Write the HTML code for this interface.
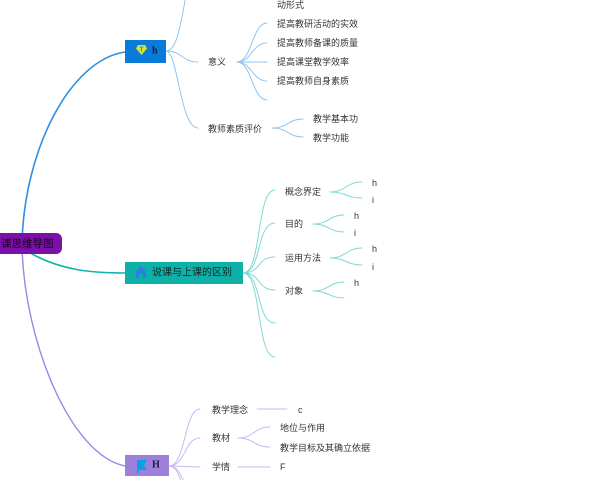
<!DOCTYPE html>
<html><head><meta charset="utf-8">
<style>
html,body{margin:0;padding:0;background:#fff;width:600px;height:480px;overflow:hidden}
svg{display:block}
text{font-family:"Liberation Sans","Noto Sans CJK SC",sans-serif;dominant-baseline:central}
</style></head><body>
<svg width="600" height="480" viewBox="0 0 600 480" xmlns="http://www.w3.org/2000/svg">
<g fill="none" stroke-linecap="round">
  <!-- root links -->
  <path d="M22,244 C24,150 70,60 125,52" stroke="#2d8fe3" stroke-width="1.6"/>
  <path d="M32,254 C62,270 90,273 125,273" stroke="#10b3ad" stroke-width="1.6"/>
  <path d="M22,246 C24,340 70,455 125,466" stroke="#9b86e6" stroke-width="1.4"/>

  <!-- blue node branches -->
  <g stroke="#8ec4f2" stroke-width="1">
    <path d="M166,51 C176,51 180,30 186,-5"/>
    <path d="M166,51 C182,51 182,62 198,62"/>
    <path d="M166,51 C178,51 180,128 198,128"/>
    <path d="M237,62 C252,62 252,23 267,23"/>
    <path d="M237,62 C252,62 252,43 267,43"/>
    <path d="M237,62 L267,62"/>
    <path d="M237,62 C252,62 252,81 267,81"/>
    <path d="M237,62 C252,62 252,100 267,100"/>
    <path d="M272,128 C288,128 288,119 303,119"/>
    <path d="M272,128 C288,128 288,137 303,137"/>
  </g>

  <!-- teal node branches -->
  <g stroke="#7fd8d4" stroke-width="1">
    <path d="M243,273 C262,273 256,190 275,190"/>
    <path d="M243,273 C262,273 256,223 275,223"/>
    <path d="M243,273 C262,273 256,257 275,257"/>
    <path d="M243,273 C262,273 256,290 275,290"/>
    <path d="M243,273 C262,273 256,323 275,323"/>
    <path d="M243,273 C262,273 256,357 275,357"/>
    <path d="M330,192 C346,192 346,182 362,182"/>
    <path d="M330,192 C346,192 346,198 362,198"/>
    <path d="M313,224 C329,224 329,215 344,215"/>
    <path d="M313,224 C329,224 329,232 344,232"/>
    <path d="M330,258 C346,258 346,248 362,248"/>
    <path d="M330,258 C346,258 346,265 362,265"/>
    <path d="M313,291 C329,291 329,282 344,282"/>
    <path d="M313,291 C329,291 329,298 344,298"/>
  </g>

  <!-- purple node branches -->
  <g stroke="#c6b9f2" stroke-width="1">
    <path d="M169,466 C186,466 184,409 200,409"/>
    <path d="M169,466 C186,466 184,438 200,438"/>
    <path d="M169,466 L200,467"/>
    <path d="M169,466 C180,466 182,480 188,490"/>
    <path d="M169,466 C178,466 180,480 184,490"/>
    <path d="M257,409 L287,409"/>
    <path d="M238,438 C254,438 254,427 270,427"/>
    <path d="M238,438 C254,438 254,447 270,447"/>
    <path d="M238,467 L270,467"/>
  </g>
</g>

<!-- root -->
<rect x="-10" y="233" width="72" height="21" rx="6" fill="#7a10a8"/>
<text x="1" y="244" font-size="10.5" fill="#1a0020">课思维导图</text>

<!-- blue node -->
<rect x="125" y="40" width="41" height="23" fill="#0a7bd9"/>
<g transform="translate(136,45)">
  <path d="M2,0 L9,0 L11,3.5 L5.5,10 L0,3.5 Z" fill="#d6e23a"/>
  <path d="M3.5,2 L7.5,2 M5.5,2 L5.5,6.5" stroke="#0a7bd9" stroke-width="0.8"/>
</g>
<text x="152" y="51" font-size="10" fill="#1b2333" style="font-family:'Liberation Serif',serif;font-weight:bold">h</text>

<!-- teal node -->
<rect x="125" y="262" width="118" height="22" fill="#0fb0a8"/>
<path d="M136,272 L141,266 L146,272 L146,278 L143,278 L143,274 L139,274 L139,278 L136,278 Z" fill="#2b7de8"/>
<text x="152" y="273" font-size="10" fill="#0b2a2a">说课与上课的区别</text>

<!-- purple bottom node -->
<rect x="125" y="455" width="44" height="21" fill="#9d80dc"/>
<path d="M137,460 L147,460 L144,465 L147,470 L139,470 L139,473 L137,473 Z" fill="#0aa0e2"/>
<text x="152" y="465" font-size="10" fill="#1d1640" style="font-family:'Liberation Serif',serif;font-weight:bold">H</text>

<!-- blue texts -->
<g font-size="9" fill="#333">
  <text x="277" y="5">动形式</text>
  <text x="208" y="62">意义</text>
  <text x="277" y="24">提高教研活动的实效</text>
  <text x="277" y="43">提高教师备课的质量</text>
  <text x="277" y="62">提高课堂教学效率</text>
  <text x="277" y="81">提高教师自身素质</text>
  <text x="208" y="129">教师素质评价</text>
  <text x="313" y="119">教学基本功</text>
  <text x="313" y="138">教学功能</text>
</g>

<!-- teal texts -->
<g font-size="9" fill="#333">
  <text x="285" y="192">概念界定</text>
  <text x="285" y="224">目的</text>
  <text x="285" y="258">运用方法</text>
  <text x="285" y="291">对象</text>
  <text x="372" y="183">h</text>
  <text x="372" y="200">i</text>
  <text x="354" y="216">h</text>
  <text x="354" y="233">i</text>
  <text x="372" y="249">h</text>
  <text x="372" y="267">i</text>
  <text x="354" y="283">h</text>
</g>

<!-- purple texts -->
<g font-size="9" fill="#333">
  <text x="212" y="410">教学理念</text>
  <text x="298" y="410">c</text>
  <text x="212" y="438">教材</text>
  <text x="280" y="428">地位与作用</text>
  <text x="280" y="448">教学目标及其确立依据</text>
  <text x="212" y="467">学情</text>
  <text x="280" y="467">F</text>
</g>
</svg>
</body></html>
